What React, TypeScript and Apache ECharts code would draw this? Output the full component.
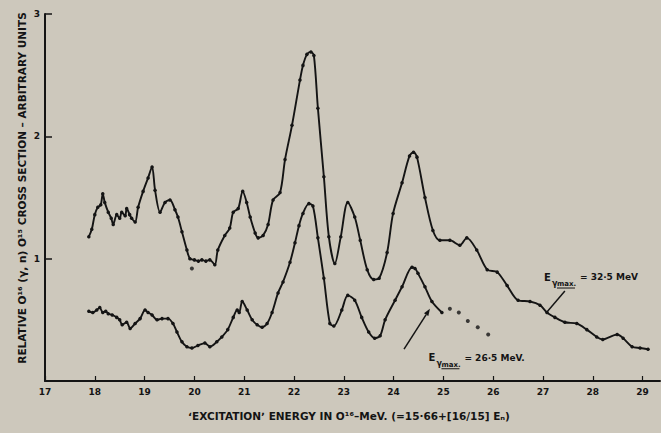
import React, { useEffect, useRef } from "react";
import * as echarts from "echarts";

// O16(γ,n)O15 relative cross section, two bremsstrahlung end-point energies
const upperCurve: [number, number][] = [
  [17.88, 1.18], [17.94, 1.24], [18.0, 1.36], [18.06, 1.42], [18.12, 1.44], [18.16, 1.53],
  [18.2, 1.46], [18.27, 1.38], [18.33, 1.33], [18.37, 1.28], [18.44, 1.36], [18.5, 1.33],
  [18.54, 1.38], [18.61, 1.35], [18.64, 1.41], [18.7, 1.36], [18.74, 1.33], [18.81, 1.3],
  [18.87, 1.42], [18.97, 1.55], [19.07, 1.66], [19.15, 1.75], [19.21, 1.56], [19.31, 1.38],
  [19.41, 1.46], [19.51, 1.48], [19.61, 1.4], [19.67, 1.34], [19.75, 1.22], [19.85, 1.07],
  [19.91, 1.0], [20.0, 0.99], [20.08, 0.98], [20.15, 0.99], [20.23, 0.98], [20.31, 0.99],
  [20.41, 0.95], [20.47, 1.07], [20.61, 1.19], [20.71, 1.25], [20.78, 1.38], [20.88, 1.41],
  [20.97, 1.55], [21.05, 1.46], [21.12, 1.34], [21.22, 1.21], [21.28, 1.17], [21.38, 1.19],
  [21.48, 1.28], [21.58, 1.48], [21.72, 1.54], [21.82, 1.81], [21.96, 2.09], [22.12, 2.46],
  [22.18, 2.58], [22.26, 2.67], [22.34, 2.69], [22.4, 2.66], [22.48, 2.23], [22.6, 1.67],
  [22.7, 1.18], [22.82, 0.96], [22.94, 1.18], [23.08, 1.46], [23.22, 1.34], [23.33, 1.15],
  [23.47, 0.91], [23.6, 0.83], [23.71, 0.84], [23.87, 1.05], [23.99, 1.37], [24.17, 1.62],
  [24.32, 1.84], [24.4, 1.87], [24.47, 1.83], [24.63, 1.5], [24.79, 1.23], [24.93, 1.15],
  [25.13, 1.15], [25.33, 1.11], [25.47, 1.17], [25.67, 1.07], [25.88, 0.91], [26.08, 0.89],
  [26.28, 0.78], [26.5, 0.66], [26.74, 0.65], [26.94, 0.62], [27.08, 0.56], [27.24, 0.52],
  [27.44, 0.48], [27.68, 0.47], [27.88, 0.42], [28.08, 0.36], [28.2, 0.34], [28.49, 0.38],
  [28.61, 0.35], [28.79, 0.28], [28.95, 0.27], [29.11, 0.26],
];

const lowerCurve: [number, number][] = [
  [17.88, 0.57], [17.96, 0.56], [18.04, 0.58], [18.1, 0.6], [18.16, 0.56], [18.22, 0.57],
  [18.27, 0.55], [18.35, 0.54], [18.44, 0.52], [18.5, 0.5], [18.55, 0.46], [18.64, 0.48],
  [18.71, 0.43], [18.81, 0.47], [18.91, 0.51], [19.01, 0.58], [19.07, 0.56], [19.15, 0.54],
  [19.25, 0.5], [19.35, 0.51], [19.47, 0.51], [19.57, 0.47], [19.65, 0.4], [19.75, 0.32],
  [19.85, 0.28], [19.95, 0.27], [20.07, 0.29], [20.21, 0.31], [20.31, 0.28], [20.45, 0.32],
  [20.55, 0.36], [20.67, 0.42], [20.78, 0.52], [20.86, 0.58], [20.9, 0.56], [20.96, 0.65],
  [21.06, 0.58], [21.16, 0.5], [21.26, 0.46], [21.36, 0.44], [21.46, 0.47], [21.56, 0.56],
  [21.68, 0.72], [21.78, 0.81], [21.92, 0.97], [22.02, 1.13], [22.1, 1.27], [22.18, 1.37],
  [22.3, 1.45], [22.38, 1.43], [22.48, 1.17], [22.6, 0.84], [22.72, 0.47], [22.8, 0.45],
  [22.96, 0.58], [23.08, 0.7], [23.22, 0.66], [23.36, 0.52], [23.5, 0.4], [23.62, 0.35],
  [23.73, 0.37], [23.83, 0.5], [24.03, 0.66], [24.17, 0.77], [24.37, 0.93], [24.43, 0.92],
  [24.49, 0.88], [24.63, 0.77], [24.77, 0.65], [24.97, 0.56],
];

// Points beyond the 26.5 MeV curve, plus one stray point on the 32.5 MeV run
const looseDots: [number, number][] = [
  [25.13, 0.59], [25.31, 0.56], [25.49, 0.49], [25.69, 0.44], [25.9, 0.38], [19.95, 0.92],
];

// Annotation anchors in data units
const upperLeader: [number, number][] = [[27.44, 0.736], [27.08, 0.564]];
const lowerArrow: [number, number][] = [[24.21, 0.26], [24.73, 0.59]];
const upperLabelAt: [number, number] = [27.02, 0.85];
const lowerLabelAt: [number, number] = [24.7, 0.19];

const upperLabel = "= 32·5 MeV";
const lowerLabel = "= 26·5 MeV.";
const yTitle = "RELATIVE O¹⁶ (γ, n) O¹⁵ CROSS SECTION – ARBITRARY UNITS";
const xTitle = "ʻEXCITATIONʼ ENERGY IN O¹⁶–MeV. (=15·66+[16/15] Eₙ)";

const INK = "#141414";
const PAPER = "#cdc8bc";
const FONT = "'DejaVu Sans', sans-serif";

export default function App() {
  const ref = useRef<HTMLDivElement>(null);

  useEffect(() => {
    document.body.style.margin = "0";
    const chart = echarts.init(ref.current!, null, { renderer: "svg" });

    const lineSeries = (name: string, data: [number, number][]) => ({
      name,
      type: "line",
      data,
      smooth: 0.3,
      symbol: "circle",
      symbolSize: 3.5,
      showAllSymbol: true,
      lineStyle: { color: INK, width: 1.9 },
      itemStyle: { color: INK },
      z: 3,
    });

    chart.setOption({
      animation: false,
      backgroundColor: PAPER,
      grid: { left: 45, right: 1, top: 14, bottom: 52 },
      xAxis: {
        type: "value",
        min: 17,
        max: 29.35,
        interval: 1,
        axisLine: { lineStyle: { color: INK, width: 2 } },
        axisTick: { inside: true, length: 5, lineStyle: { color: INK, width: 1.2 } },
        axisLabel: {
          color: INK, fontFamily: FONT, fontWeight: "bold", fontSize: 9, margin: 6,
          showMaxLabel: false,
        },
        splitLine: { show: false },
      },
      yAxis: {
        type: "value",
        min: 0,
        max: 3,
        interval: 1,
        axisLine: { show: true, lineStyle: { color: INK, width: 2 } },
        axisTick: { show: true, inside: true, length: 7, lineStyle: { color: INK, width: 1.5 } },
        axisLabel: {
          color: INK, fontFamily: FONT, fontWeight: "bold", fontSize: 9, margin: 5,
          showMinLabel: false,
        },
        splitLine: { show: false },
      },
      series: [
        lineSeries("Eγmax 32.5 MeV", upperCurve),
        lineSeries("Eγmax 26.5 MeV", lowerCurve),
        {
          name: "extra points",
          type: "scatter",
          data: looseDots,
          symbol: "circle",
          symbolSize: 4,
          itemStyle: { color: INK },
          z: 3,
        },
      ],
    });

    const px = (p: [number, number]) => chart.convertToPixel({ gridIndex: 0 }, p) as number[];
    const [l0, l1] = upperLeader.map(px);
    const [a0, a1] = lowerArrow.map(px);
    const ang = Math.atan2(a1[1] - a0[1], a1[0] - a0[0]);
    const head = 7;
    const wing = 2.6;
    const base = [a1[0] - head * Math.cos(ang), a1[1] - head * Math.sin(ang)];
    const arrowHead = [
      a1,
      [base[0] + wing * Math.sin(ang), base[1] - wing * Math.cos(ang)],
      [base[0] - wing * Math.sin(ang), base[1] + wing * Math.cos(ang)],
    ];
    const up = px(upperLabelAt);
    const lo = px(lowerLabelAt);
    const txt = (text: string, x: number, y: number, size = 9) => ({
      type: "text",
      x,
      y,
      style: {
        text, fill: INK, font: `bold ${size}px ${FONT}`,
        textAlign: "left", textVerticalAlign: "middle",
      },
    });
    const eLabel = (x: number, y: number, value: string) => ({
      type: "group",
      x,
      y,
      children: [
        txt("E", 0, 0, 10),
        txt("γ", 8, 6, 8),
        txt("max.", 13, 7, 7),
        {
          type: "line",
          shape: { x1: 13, y1: 11, x2: 31, y2: 11 },
          style: { stroke: INK, lineWidth: 1 },
        },
        txt(value, 36, 0, 9),
      ],
    });

    chart.setOption({
      graphic: [
        {
          type: "text",
          x: 22,
          y: 188,
          rotation: Math.PI / 2,
          style: {
            text: yTitle, fill: INK, font: `bold 10.5px ${FONT}`,
            textAlign: "center", textVerticalAlign: "middle",
          },
        },
        {
          type: "text",
          x: 349,
          y: 416,
          style: {
            text: xTitle, fill: INK, font: `bold 10.5px ${FONT}`,
            textAlign: "center", textVerticalAlign: "middle",
          },
        },
        {
          type: "line",
          shape: { x1: l0[0], y1: l0[1], x2: l1[0], y2: l1[1] },
          style: { stroke: INK, lineWidth: 1.5 },
        },
        {
          type: "line",
          shape: { x1: a0[0], y1: a0[1], x2: base[0], y2: base[1] },
          style: { stroke: INK, lineWidth: 1.5 },
        },
        { type: "polygon", shape: { points: arrowHead }, style: { fill: INK } },
        eLabel(up[0], up[1], upperLabel),
        eLabel(lo[0], lo[1], lowerLabel),
      ],
    });

    return () => chart.dispose();
  }, []);

  return <div ref={ref} style={{ width: 661, height: 433, background: PAPER }} />;
}
